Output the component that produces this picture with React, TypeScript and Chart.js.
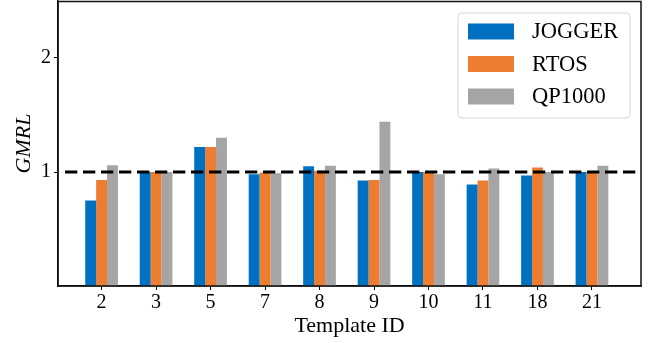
import React, { useEffect, useRef } from "react";
import { Chart, registerables } from "chart.js";

Chart.register(...registerables);

const categories = ["2", "3", "5", "7", "8", "9", "10", "11", "18", "21"];
const seriesNames = ["JOGGER", "RTOS", "QP1000"];
const jogger = [0.75, 1.0, 1.22, 0.98, 1.05, 0.925, 1.0, 0.89, 0.97, 1.0];
const rtos = [0.93, 1.0, 1.22, 0.995, 1.01, 0.93, 1.0, 0.925, 1.04, 0.997];
const qp1000 = [1.06, 1.0, 1.3, 0.99, 1.055, 1.44, 0.98, 1.03, 1.0, 1.055];
const yTicks = [1, 2];
const referenceLevel = 1;

const colors = ["#0070C0", "#ED7D31", "#A5A5A5"];
const FONT = "'Liberation Serif', 'Times New Roman', serif";

const refLinePlugin = {
  id: "refLine",
  afterDatasetsDraw(chart: any) {
    const { ctx, chartArea, scales } = chart;
    const y = scales.y.getPixelForValue(referenceLevel);
    ctx.save();
    ctx.beginPath();
    ctx.setLineDash([12.3, 5.7]);
    ctx.lineWidth = 3.2;
    ctx.strokeStyle = "#000";
    ctx.moveTo(chartArea.left + 7, y);
    ctx.lineTo(chartArea.right, y);
    ctx.stroke();
    ctx.restore();
  },
};

const framePlugin = {
  id: "frame",
  afterDraw(chart: any) {
    const { ctx, chartArea } = chart;
    ctx.save();
    ctx.lineWidth = 1.5;
    ctx.strokeStyle = "#111";
    ctx.strokeRect(chartArea.left, chartArea.top + 0.5, chartArea.right - chartArea.left, chartArea.bottom - chartArea.top - 0.5);
    ctx.restore();
  },
};

const legendPlugin = {
  id: "customLegend",
  afterDraw(chart: any) {
    const { ctx, chartArea } = chart;
    const w = 172;
    const h = 105;
    const x = chartArea.right - 11 - w;
    const y = chartArea.top + 12;
    ctx.save();
    ctx.beginPath();
    const r = 4;
    ctx.moveTo(x + r, y);
    ctx.arcTo(x + w, y, x + w, y + h, r);
    ctx.arcTo(x + w, y + h, x, y + h, r);
    ctx.arcTo(x, y + h, x, y, r);
    ctx.arcTo(x, y, x + w, y, r);
    ctx.closePath();
    ctx.fillStyle = "rgba(255,255,255,0.8)";
    ctx.fill();
    ctx.lineWidth = 1;
    ctx.strokeStyle = "#d6d6d6";
    ctx.stroke();
    ctx.font = `22.5px ${FONT}`;
    ctx.textBaseline = "middle";
    ctx.textAlign = "left";
    chart.data.datasets.forEach((ds: any, i: number) => {
      const cy = y + 18.5 + i * 32.5;
      ctx.fillStyle = ds.backgroundColor;
      ctx.fillRect(x + 10, cy - 8, 46, 16);
      ctx.fillStyle = "#000";
      ctx.fillText(ds.label, x + 74, cy + 1);
    });
    ctx.restore();
  },
};

export default function App() {
  const ref = useRef<HTMLCanvasElement | null>(null);
  useEffect(() => {
    if (!ref.current) return;
    const series = [jogger, rtos, qp1000];
    const chart = new Chart(ref.current, {
      type: "bar",
      data: {
        datasets: series.map((vals, si) => ({
          label: seriesNames[si],
          data: categories.map((_, i) => ({ x: i, y: vals[i] })),
          backgroundColor: colors[si],
          borderWidth: 0,
          categoryPercentage: 0.6,
          barPercentage: 1.0,
        })),
      },
      options: {
        responsive: false,
        animation: false,
        layout: { padding: { top: 1, right: 14, left: 0, bottom: 0 } },
        plugins: { legend: { display: false }, tooltip: { enabled: false } },
        scales: {
          x: {
            type: "linear",
            offset: false,
            min: -0.8,
            max: 9.9,
            afterBuildTicks: (s: any) => {
              s.ticks = categories.map((_, i) => ({ value: i }));
            },
            afterFit: (s: any) => {
              s.height = 57;
              s.paddingLeft = 0;
              s.paddingRight = 0;
            },
            ticks: {
              autoSkip: false,
              maxRotation: 0,
              padding: 1,
              color: "#000",
              font: { family: FONT, size: 20 },
              callback: (v: any) => categories[v],
            },
            grid: { offset: false, drawOnChartArea: false, drawTicks: true, tickLength: 4, tickColor: "#000", lineWidth: 1 },
            border: { display: true, color: "#111", width: 1.5 },
            title: {
              display: true,
              text: "Template ID",
              color: "#000",
              font: { family: FONT, size: 22 },
              padding: { top: 0, bottom: 4 },
            },
          },
          y: {
            type: "linear",
            min: 0,
            max: 2.5,
            afterBuildTicks: (s: any) => {
              s.ticks = yTicks.map((v) => ({ value: v }));
            },
            afterFit: (s: any) => {
              s.width = 58;
              s.paddingTop = 0;
              s.paddingBottom = 0;
            },
            ticks: {
              padding: 3,
              color: "#000",
              font: { family: FONT, size: 20 },
            },
            grid: { drawOnChartArea: false, drawTicks: true, tickLength: 4, tickColor: "#000", lineWidth: 1 },
            border: { display: true, color: "#111", width: 1.5 },
            title: {
              display: true,
              text: "GMRL",
              color: "#000",
              font: { family: FONT, size: 22, style: "italic" },
              padding: { top: 11, bottom: 0 },
            },
          },
        },
      },
      plugins: [refLinePlugin, framePlugin, legendPlugin],
    } as any);
    return () => chart.destroy();
  }, []);
  return (
    <div style={{ position: "fixed", left: 0, top: 0, width: 655, height: 343, background: "#fff" }}>
      <canvas ref={ref} width={655} height={343} style={{ width: 655, height: 343 }} />
    </div>
  );
}
